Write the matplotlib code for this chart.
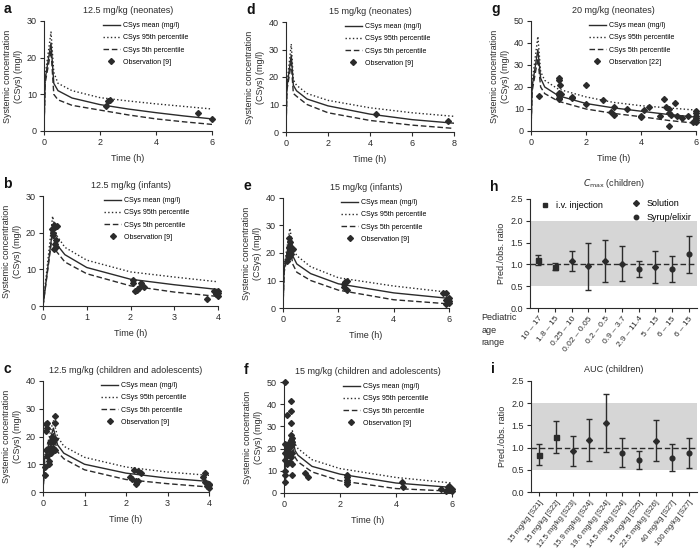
import matplotlib
matplotlib.use("Agg")
import matplotlib.pyplot as plt
from matplotlib.lines import Line2D

plt.rcParams['font.family'] = ['Liberation Sans', 'DejaVu Sans']
plt.rcParams['font.size'] = 6.5

INK = '#2b2b2b'
BAND = '#d6d6d6'

# ---- panel a: 12.5 mg/kg (neonates)
t_a = [0, 0.04, 0.25, 0.35, 0.5, 1, 2, 3, 4, 5, 6]
mean_a = [0, 14, 24, 13, 11, 9.0, 7.2, 6.0, 5.0, 4.1, 3.3]
p95_a = [0, 15, 27, 16, 13, 11, 9.1, 8.2, 7.4, 6.7, 6.0]
p5_a = [0, 13, 22, 10, 8.5, 7.0, 5.7, 4.4, 3.3, 2.5, 1.8]
obs_t_a = [2.2, 2.3, 2.35, 5.5, 6.0]
obs_c_a = [6.8, 8.1, 8.4, 4.8, 3.2]

# ---- panel b: 12.5 mg/kg (infants)
t_b = [0, 0.22, 0.3, 0.5, 1, 2, 3, 4]
mean_b = [0, 21, 17, 14, 10.5, 7.3, 5.8, 4.5]
p95_b = [0, 24.5, 19.5, 16, 12.5, 9.3, 7.9, 6.6]
p5_b = [0, 20, 15, 12, 8.8, 5.5, 3.8, 2.6]
obs_t_b = [0.2, 0.22, 0.23, 0.25, 0.27, 0.28, 0.3, 0.3, 0.25, 0.32,
           2.05, 2.05, 2.1, 2.15, 2.2, 2.25, 2.3, 3.75, 3.9, 3.95, 4.0, 4.0, 4.0]
obs_c_b = [21, 20, 19.5, 22, 21.5, 17, 18, 16, 15.5, 21.8,
           7.2, 6.2, 4.2, 4.5, 5.0, 6.3, 5.3, 1.8, 4.0, 3.3, 4.2, 2.8, 3.6]

# ---- panel c: 12.5 mg/kg (children and adolescents)
t_c = [0, 0.04, 0.25, 0.35, 0.5, 1, 2, 3, 4]
mean_c = [0, 12, 23, 17, 14, 10, 6.8, 5.0, 3.8]
p95_c = [0, 13, 26, 20, 16.5, 12.5, 9.0, 7.2, 6.0]
p5_c = [0, 11, 21, 14.5, 12, 8.0, 4.5, 3.0, 1.8]
obs_t_c = [0.05, 0.05, 0.07, 0.07, 0.07, 0.1, 0.1, 0.1, 0.12, 0.15, 0.15, 0.18,
           0.2, 0.2, 0.22, 0.25, 0.25, 0.28, 0.28, 0.3, 0.3,
           2.1, 2.15, 2.2, 2.25, 2.25, 2.3, 2.3, 2.35,
           3.85, 3.9, 3.9, 3.95, 4.0, 4.0, 4.0]
obs_c_c = [6, 9, 15, 22, 24.5, 25, 23, 13, 15.5, 11, 10, 18,
           16, 14, 20, 18, 16, 25, 27.5, 19, 15,
           5.5, 4.8, 7.8, 3.0, 3.8, 7.5, 4.0, 6.8,
           5.5, 7.0, 3.5, 2.0, 3.0, 1.5, 2.5]

# ---- panel d: 15 mg/kg (neonates)
t_d = [0, 0.04, 0.25, 0.35, 0.5, 1, 2, 4, 6, 8]
mean_d = [0, 16, 28, 17, 15, 12, 9.5, 6.5, 4.5, 3.2]
p95_d = [0, 17, 32, 19, 17, 14, 11.5, 8.8, 7.0, 5.7]
p5_d = [0, 15, 25, 14, 13, 10, 7.0, 4.2, 2.5, 1.3]
obs_t_d = [4.3, 7.7]
obs_c_d = [6.4, 4.1]

# ---- panel e: 15 mg/kg (infants)
t_e = [0, 0.04, 0.25, 0.35, 0.5, 1, 2, 4, 6]
mean_e = [0, 14, 26, 19, 16, 12.5, 8.8, 5.5, 3.5]
p95_e = [0, 15, 29, 22, 19, 15, 11, 8.0, 5.7]
p5_e = [0, 13, 23, 16, 13, 10, 6.5, 3.0, 1.5]
obs_t_e = [0.15, 0.2, 0.2, 0.22, 0.25, 0.25, 0.3, 0.3, 0.2, 0.35,
           2.2, 2.2, 2.25, 2.3, 2.3, 5.8, 5.9, 5.9, 5.9, 6.0, 6.0, 5.95, 6.0]
obs_c_e = [17, 18.5, 22, 25.5, 24, 22.5, 21, 19.5, 20, 21.5,
           7.5, 8.8, 9.5, 6.5, 10, 5.3, 5.5, 2.8, 1.5, 3.5, 2.5, 3.2, 2.0]

# ---- panel f: 15 mg/kg (children and adolescents)
t_f = [0, 0.04, 0.3, 0.4, 0.5, 1, 2, 4, 6]
mean_f = [0, 14, 25, 19, 17, 12, 8.5, 4.5, 2.5]
p95_f = [0, 15, 28, 22, 20, 15, 11, 7.0, 4.5]
p5_f = [0, 13, 21, 16, 14, 9.5, 5.5, 2.0, 0.8]
obs_t_f = [0.05, 0.05, 0.05, 0.05, 0.05, 0.05, 0.05, 0.1, 0.1, 0.1, 0.15, 0.15,
           0.2, 0.2, 0.25, 0.25, 0.25, 0.25, 0.25, 0.25, 0.25, 0.28, 0.3, 0.3,
           0.3, 0.3, 0.3, 0.75, 0.85, 2.25, 2.25, 2.25, 2.25, 2.25, 4.2, 4.25,
           5.6, 5.8, 5.85, 5.9, 5.95, 6.0, 6.0, 5.9]
obs_c_f = [50, 22, 18, 15, 10, 8, 5, 35, 20, 13, 22, 17,
           18, 14, 41.5, 37, 31.5, 26, 24, 21, 16, 23, 25, 22,
           18, 8, 13, 9, 7, 8, 7, 6, 5, 4, 5, 2.5,
           2, 1, 2.5, 1.5, 2, 1, 2, 3]

# ---- panel g: 20 mg/kg (neonates)
t_g = [0, 0.04, 0.25, 0.35, 0.5, 1, 2, 3, 4, 5, 6]
mean_g = [0, 20, 37, 24, 20, 16, 12.5, 10.5, 9.0, 7.5, 6.3]
p95_g = [0, 22, 43, 27, 23, 19, 15.5, 13, 11.5, 10.5, 9.5]
p5_g = [0, 18, 33, 20, 17, 13.5, 10, 8.0, 6.5, 4.8, 3.5]
obs_t_g = [0.3, 1.0, 1.0, 1.0, 1.0, 1.0, 1.0, 1.05, 1.1, 1.5, 1.5, 2.0, 2.0,
           2.6, 2.9, 3.0, 3.0, 3.5, 4.0, 4.0, 4.1, 4.3, 4.7, 4.85, 4.9, 5.0,
           5.0, 5.0, 5.1, 5.25, 5.3, 5.5, 5.7, 5.9, 6.0, 6.0, 6.0, 6.0, 6.0, 6.0]
obs_c_g = [16, 24, 23, 17.5, 16.5, 15, 14.5, 21, 17, 15.5, 15, 21, 12.5,
           14, 8.5, 11, 7.2, 10, 7, 6.5, 9.5, 11, 7, 14.5, 11, 10,
           8, 2.3, 7.5, 12.7, 7, 6, 7, 4, 9, 8, 7, 6, 5, 4]

# ---- panel h: Cmax (children)
age_ranges = ['10 \u2013 17', '1.8 \u2013 15', '0.25 \u2013 10', '0.02 \u2013 0.05',
              '0.2 \u2013 0.5', '0.9 \u2013 3.7', '2.9 \u2013 11.4', '5 \u2013 15',
              '6 \u2013 15', '6 \u2013 15']
cmax_ratio = [1.09, 0.95, 1.07, 0.96, 1.07, 1.02, 0.89, 0.93, 0.89, 1.23]
cmax_low = [0.98, 0.87, 0.85, 0.42, 0.59, 0.63, 0.72, 0.57, 0.60, 0.80]
cmax_high = [1.21, 1.04, 1.30, 1.49, 1.55, 1.42, 1.08, 1.30, 1.19, 1.66]
cmax_form = ['iv', 'iv', 'sol', 'sol', 'sol', 'sol', 'syr', 'sol', 'syr', 'syr']

# ---- panel i: AUC (children)
auc_labels = ['15 mg/kg [S21]', '15 mg/kg [S22]', '12.5 mg/kg [S23]', '15.9 mg/kg [S24]',
              '19.6 mg/kg [S24]', '14.5 mg/kg [S24]', '15 mg/kg [S25]', '22.5 mg/kg [S26]',
              '40 mg/kg [S27]', '100 mg/kg [S27]']
auc_ratio = [0.84, 1.23, 0.92, 1.17, 1.55, 0.88, 0.72, 1.15, 0.77, 0.87]
auc_low = [0.60, 0.88, 0.58, 0.69, 0.89, 0.56, 0.51, 0.69, 0.47, 0.53]
auc_high = [1.09, 1.59, 1.26, 1.64, 2.20, 1.21, 0.93, 1.62, 1.07, 1.21]
auc_form = ['iv', 'iv', 'sol', 'sol', 'sol', 'syr', 'syr', 'sol', 'syr', 'syr']

W, H = 700, 548
fig = plt.figure(figsize=(7.0, 5.48), dpi=100)


def axes_px(x0, y0, x1, y1):
    return fig.add_axes([x0 / W, 1 - y1 / H, (x1 - x0) / W, (y1 - y0) / H])


def style(ax):
    for s in ['top', 'right']:
        ax.spines[s].set_visible(False)
    for s in ['left', 'bottom']:
        ax.spines[s].set_color(INK)
        ax.spines[s].set_linewidth(0.8)
    ax.tick_params(colors=INK, length=3, width=0.8, labelsize=6.5, pad=2)


def panel_letter(rect, letter):
    fig.text((rect[0] - 40) / W, 1 - (rect[1] - 12) / H, letter, fontsize=10, fontweight='bold',
             color='#111111', va='center', ha='left')


def pk_panel(rect, letter, title, t, mean, p95, p5, ot, oc, ref, xmax, xstep, ymax, ystep):
    ax = axes_px(*rect)
    style(ax)
    ax.plot(t, mean, '-', color=INK, lw=1.0, label='CSys mean (mg/l)')
    ax.plot(t, p95, ':', color=INK, lw=1.0, label='CSys 95th percentile')
    ax.plot(t, p5, '--', color=INK, lw=1.0, dashes=(4, 2), label='CSys 5th percentile')
    ax.plot(ot, oc, 'D', color=INK, ms=3.0, ls='none', label='Observation [%s]' % ref, clip_on=False)
    ax.set_xlim(0, xmax)
    ax.set_ylim(0, ymax)
    ax.set_xticks(range(0, xmax + 1, xstep))
    ax.set_yticks(range(0, ymax + 1, ystep))
    ax.set_xlabel('Time (h)', fontsize=6.5, color=INK, labelpad=5)
    ax.set_ylabel('Systemic concentration\n(CSys) (mg/l)', fontsize=6.5, color=INK, labelpad=3)
    ax.set_title(title, fontsize=6.5, color=INK, pad=6)
    ax.legend(loc='upper left', bbox_to_anchor=(0.33, 1.02), frameon=False, fontsize=5.0,
              handlelength=2.4, handletextpad=0.45, labelspacing=0.75, borderpad=0, markerscale=1.0)
    panel_letter(rect, letter)
    return ax


pk_panel((44, 21, 212, 131), 'a', '12.5 mg/kg (neonates)', t_a, mean_a, p95_a, p5_a,
         obs_t_a, obs_c_a, '9', 6, 2, 30, 10)
pk_panel((43, 196, 218, 306), 'b', '12.5 mg/kg (infants)', t_b, mean_b, p95_b, p5_b,
         obs_t_b, obs_c_b, '9', 4, 1, 30, 10)
pk_panel((43, 381, 209, 492), 'c', '12.5 mg/kg (children and adolescents)', t_c, mean_c, p95_c, p5_c,
         obs_t_c, obs_c_c, '9', 4, 1, 40, 10)
pk_panel((286, 22, 454, 132), 'd', '15 mg/kg (neonates)', t_d, mean_d, p95_d, p5_d,
         obs_t_d, obs_c_d, '9', 8, 2, 40, 10)
pk_panel((283, 198, 449, 308), 'e', '15 mg/kg (infants)', t_e, mean_e, p95_e, p5_e,
         obs_t_e, obs_c_e, '9', 6, 2, 40, 10)
pk_panel((284, 382, 452, 493), 'f', '15 mg/kg (children and adolescents)', t_f, mean_f, p95_f, p5_f,
         obs_t_f, obs_c_f, '9', 6, 2, 50, 10)
pk_panel((531, 21, 696, 131), 'g', '20 mg/kg (neonates)', t_g, mean_g, p95_g, p5_g,
         obs_t_g, obs_c_g, '22', 6, 2, 50, 10)

MARK = {'iv': 's', 'sol': 'D', 'syr': 'o'}
MSIZE = {'iv': 3.6, 'sol': 3.0, 'syr': 3.4}


def ratio_panel(rect, letter, title, labels, ratio, low, high, forms, tick_fs, title_pad):
    ax = axes_px(*rect)
    style(ax)
    n = len(labels)
    ax.axhspan(0.5, 2.0, color=BAND, lw=0, zorder=0)
    ax.axhline(1.0, color=INK, ls='--', lw=1.0, dashes=(4, 2), zorder=1)
    for i in range(n):
        ax.errorbar(i, ratio[i], yerr=[[ratio[i] - low[i]], [high[i] - ratio[i]]],
                    fmt=MARK[forms[i]], ms=MSIZE[forms[i]], color=INK, ecolor=INK,
                    elinewidth=1.0, capsize=2.5, capthick=1.0, zorder=3)
    ax.set_xlim(-0.5, n - 0.5)
    ax.set_ylim(0, 2.5)
    ax.set_yticks([0, 0.5, 1.0, 1.5, 2.0, 2.5])
    ax.set_yticklabels(['0.0', '0.5', '1.0', '1.5', '2.0', '2.5'])
    ax.set_xticks(range(n))
    ax.set_xticklabels(labels, rotation=52, ha='right', rotation_mode='anchor', fontsize=tick_fs)
    ax.set_ylabel('Pred./obs. ratio', fontsize=6.5, color=INK, labelpad=3)
    ax.set_title(title, fontsize=6.5, color=INK, pad=title_pad)
    panel_letter(rect, letter)
    return ax


ax_h = ratio_panel((530, 199, 697, 308), 'h', r'$C_{\mathrm{max}}$ (children)', age_ranges,
                   cmax_ratio, cmax_low, cmax_high, cmax_form, 6.0, 9)
h1 = Line2D([], [], marker='s', color=INK, ls='none', ms=3.4)
h2 = Line2D([], [], marker='D', color=INK, ls='none', ms=3.0)
h3 = Line2D([], [], marker='o', color=INK, ls='none', ms=3.2)
ax_h.legend([h1], ['i.v. injection'], loc='upper left', bbox_to_anchor=(0.0, 1.04), frameon=False,
            fontsize=6.5, handletextpad=0.2, borderpad=0.2)
ax_h.add_artist(ax_h.get_legend())
ax_h.legend([h2, h3], ['Solution', 'Syrup/elixir'], loc='upper left', bbox_to_anchor=(0.54, 1.06),
            frameon=False, fontsize=6.5, handletextpad=0.2, borderpad=0.2, labelspacing=0.6)
ax_h.text(-0.29, -0.05, 'Pediatric\nage\nrange', transform=ax_h.transAxes, fontsize=6.5,
          color=INK, ha='left', va='top', linespacing=1.5)

ratio_panel((531, 381, 697, 492), 'i', 'AUC (children)', auc_labels,
            auc_ratio, auc_low, auc_high, auc_form, 5.5, 6.5)

fig.savefig('out.png', dpi=100)
